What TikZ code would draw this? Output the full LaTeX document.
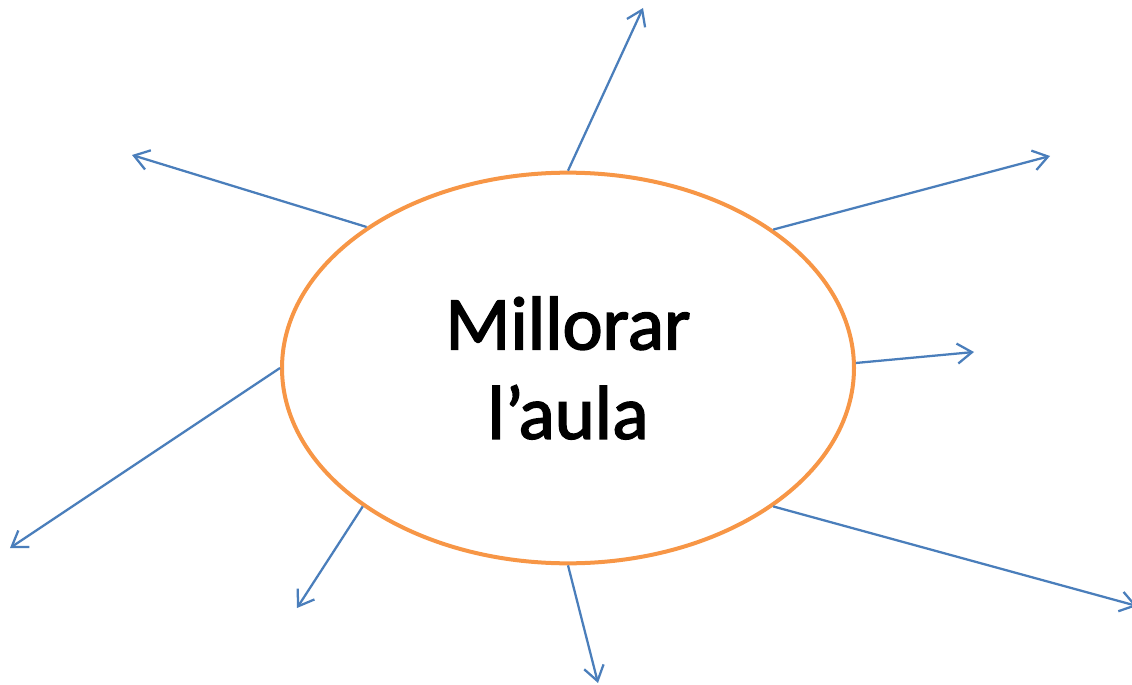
\documentclass[tikz,border=0pt]{standalone}
\usepackage{fontspec}
\setmainfont{Carlito}
\newfontfamily\titlefont{Carlito}[FakeBold=2]
\usetikzlibrary{shapes.geometric,arrows.meta}
\definecolor{rayblue}{HTML}{4A7EBB}
\definecolor{ringorange}{HTML}{F79646}
\tikzset{ray/.style={line width=1.7pt, color=rayblue, -{Straight Barb[length=11pt,width=15pt]}}}

\begin{document}
\begin{tikzpicture}[x=0.75pt,y=-0.75pt]
		%%%%% START %%%%%
		\useasboundingbox (0,0) rectangle (1132,685);
		
		\node[ellipse, draw=ringorange, line width=3pt, minimum width=429pt, minimum height=293pt, inner sep=0pt, align=center, font=\titlefont\fontsize{57}{67}\selectfont] (aula) at (568,368) {Millorar\\l’aula};
		
		\coordinate (top) at (643,8);
		\coordinate (upleft) at (132,155);
		\coordinate (upright) at (1050,156);
		\coordinate (right) at (974,352);
		\coordinate (left) at (10,548);
		\coordinate (lowleft) at (297,608);
		\coordinate (bottom) at (598,683);
		\coordinate (lowright) at (1137,606);
		
		\draw[ray] (aula.90) -- (top);
		\draw[ray] (aula.145.4) -- (upleft);
		\draw[ray] (aula.34.1) -- (upright);
		\draw[ray] (aula.1) -- (right);
		\draw[ray] (aula.180) -- (left);
		\draw[ray] (aula.214.6) -- (lowleft);
		\draw[ray] (aula.270) -- (bottom);
		\draw[ray] (aula.-34.3) -- (lowright);
		
		%%%%% END %%%%%
	\end{tikzpicture}
\end{document}
